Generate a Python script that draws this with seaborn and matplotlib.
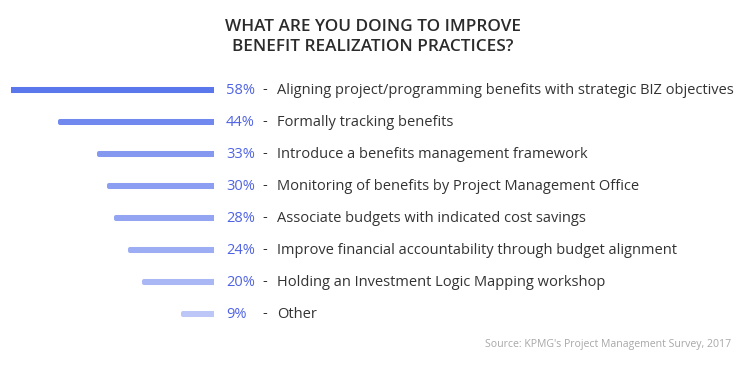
import pandas as pd
import matplotlib
matplotlib.use("Agg")
import matplotlib.pyplot as plt
import matplotlib.transforms as mtransforms
import seaborn as sns

# -----------------------
# DATA
# -----------------------
practices = [
    "Aligning project/programming benefits with strategic BIZ objectives",
    "Formally tracking benefits",
    "Introduce a benefits management framework",
    "Monitoring of benefits by Project Management Office",
    "Associate budgets with indicated cost savings",
    "Improve financial accountability through budget alignment",
    "Holding an Investment Logic Mapping workshop",
    "Other",
]
shares = [58, 44, 33, 30, 28, 24, 20, 9]
bar_colors = ["#5b77ec", "#7188ee", "#8498f0", "#8b9ef1", "#92a4f2",
              "#9dadf3", "#a9b7f4", "#bcc6f7"]

df = pd.DataFrame({"practice": practices, "share": shares})

sns.set_theme(style="white")
plt.rcParams["font.family"] = ["Open Sans", "DejaVu Sans"]

W, H = 740, 365
fig = plt.figure(figsize=(W / 100, H / 100), dpi=100)
fig.patch.set_facecolor("white")

# axes: bars grow leftwards from x=215px, rows every 32px from y=90px
ax = fig.add_axes([11 / W, (H - 330) / H, 203 / W, 256 / H])

sns.barplot(data=df, x="share", y="practice", hue="practice",
            palette=bar_colors, legend=False, width=0.06, ax=ax,
            orient="h")
for p, c in zip(ax.patches, bar_colors):
    p.set_edgecolor(c)
    p.set_linewidth(2.9)
    p.set_joinstyle("round")

ax.set_xlim(58, 0)
ax.set_ylim(7.5, -0.5)
ax.axis("off")

# labels
fs = 10.5
trans = mtransforms.blended_transform_factory(fig.transFigure, ax.transData)
for i, (name, val) in enumerate(zip(practices, shares)):
    ax.text(226 / W, i, f"{val}%", transform=trans, ha="left", va="center",
            color="#4f63e4", fontsize=fs)
    ax.text(262 / W, i, "-", transform=trans, ha="left", va="center",
            color="#333333", fontsize=fs)
    ax.text(277 / W, i, name, transform=trans, ha="left", va="center",
            color="#333333", fontsize=fs)

# title and source
fig.text(373 / W, 1 - 27 / H, "WHAT ARE YOU DOING TO IMPROVE",
         ha="center", va="center", fontsize=12.3, fontweight="semibold",
         color="#2b2b2b")
fig.text(373 / W, 1 - 47 / H, "BENEFIT REALIZATION PRACTICES?",
         ha="center", va="center", fontsize=12.3, fontweight="semibold",
         color="#2b2b2b")
fig.text(731 / W, 1 - 344 / H, "Source: KPMG's Project Management Survey, 2017",
         ha="right", va="center", fontsize=7.6, color="#a8a8a8")

fig.savefig("out.png", dpi=100, facecolor="white")
